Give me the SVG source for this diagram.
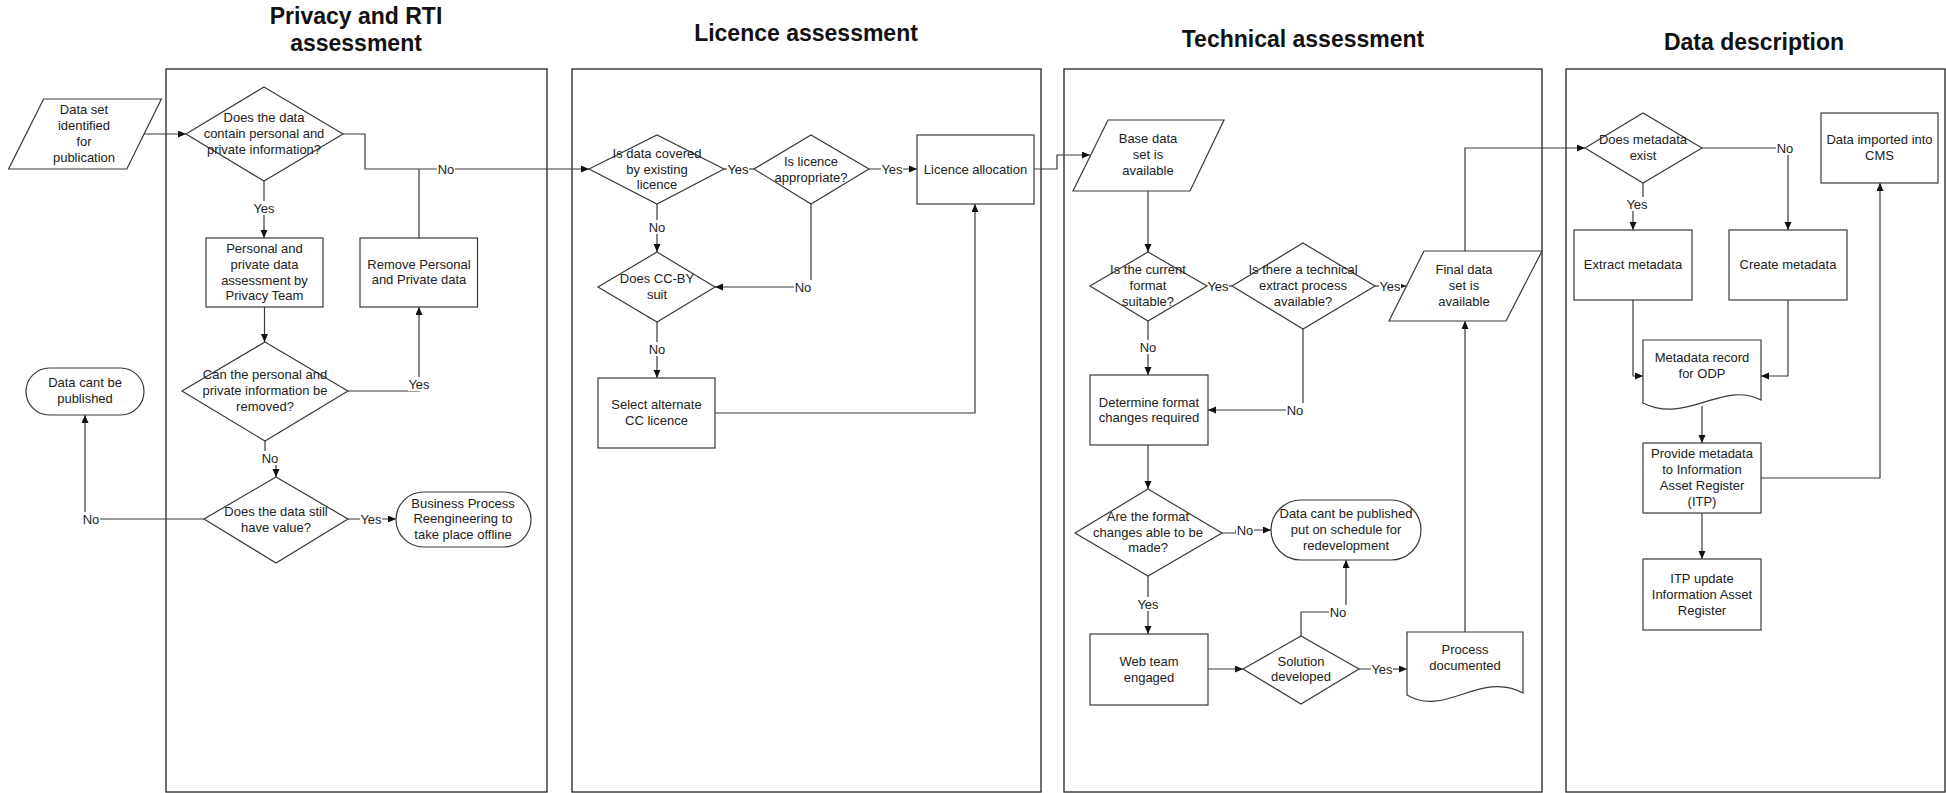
<svg xmlns="http://www.w3.org/2000/svg" width="1946" height="793" viewBox="0 0 1946 793">
<style>
.lane{fill:none;stroke:#222;stroke-width:1.3}
.title{font-family:"Liberation Sans",Arial,sans-serif;font-weight:bold;font-size:23px;fill:#111;text-anchor:middle}
.shape{fill:#fff;stroke:#3a3a3a;stroke-width:1.2}
.t{font-family:"Liberation Sans",Arial,sans-serif;font-size:13px;fill:#222;text-anchor:middle}
.c{fill:none;stroke:#3a3a3a;stroke-width:1.2}
.lb{fill:#fff}
</style>
<defs>
<marker id="ar" markerUnits="userSpaceOnUse" markerWidth="9" markerHeight="8" refX="8" refY="3.5" orient="auto">
<path d="M0,0 L8,3.5 L0,7 z" fill="#111"/>
</marker>
</defs>
<rect width="1946" height="793" fill="#fff"/>

<g id="lanes">
<rect class="lane" x="166" y="69" width="381" height="723"/>
<rect class="lane" x="572" y="69" width="469" height="723"/>
<rect class="lane" x="1064" y="69" width="478" height="723"/>
<rect class="lane" x="1566" y="69" width="379" height="723"/>
<text class="title" x="356" y="24">Privacy and RTI</text>
<text class="title" x="356" y="51">assessment</text>
<text class="title" x="806" y="41">Licence assessment</text>
<text class="title" x="1303" y="46.5">Technical assessment</text>
<text class="title" x="1754" y="49.5">Data description</text>
</g>

<g id="connectors">
<path class="c" d="M143,134 H186" marker-end="url(#ar)"/>
<path class="c" d="M343,134 H365 V169 H589" marker-end="url(#ar)"/>
<path class="c" d="M419,238 V169"/>
<path class="c" d="M264,181 V238" marker-end="url(#ar)"/>
<path class="c" d="M264.5,307 V342" marker-end="url(#ar)"/>
<path class="c" d="M348,391 H419 V307" marker-end="url(#ar)"/>
<path class="c" d="M265,441 V458 H276 V477" marker-end="url(#ar)"/>
<path class="c" d="M348,519 H396" marker-end="url(#ar)"/>
<path class="c" d="M204,519 H85 V415" marker-end="url(#ar)"/>
<path class="c" d="M724,169 H754"/>
<path class="c" d="M869,169 H917" marker-end="url(#ar)"/>
<path class="c" d="M1034,169 H1057 V155 H1090" marker-end="url(#ar)"/>
<path class="c" d="M657,204 V252" marker-end="url(#ar)"/>
<path class="c" d="M811,204 V287 H715" marker-end="url(#ar)"/>
<path class="c" d="M657,322 V378" marker-end="url(#ar)"/>
<path class="c" d="M715,413 H975 V204" marker-end="url(#ar)"/>
<path class="c" d="M1148,191 V252" marker-end="url(#ar)"/>
<path class="c" d="M1207,286 H1232"/>
<path class="c" d="M1375,286 H1406" marker-end="url(#ar)"/>
<path class="c" d="M1465,251 V148 H1585" marker-end="url(#ar)"/>
<path class="c" d="M1148,321 V375" marker-end="url(#ar)"/>
<path class="c" d="M1303,329 V410 H1208" marker-end="url(#ar)"/>
<path class="c" d="M1148,445 V489" marker-end="url(#ar)"/>
<path class="c" d="M1222,533 H1236 V530 H1271" marker-end="url(#ar)"/>
<path class="c" d="M1148,576 V634" marker-end="url(#ar)"/>
<path class="c" d="M1208,669 H1243" marker-end="url(#ar)"/>
<path class="c" d="M1301,636 V612 H1346 V560" marker-end="url(#ar)"/>
<path class="c" d="M1359,669 H1407" marker-end="url(#ar)"/>
<path class="c" d="M1465,632 V321" marker-end="url(#ar)"/>
<path class="c" d="M1702,148 H1788 V230" marker-end="url(#ar)"/>
<path class="c" d="M1643,183 V203 H1633 V230" marker-end="url(#ar)"/>
<path class="c" d="M1633,300 V376 H1643" marker-end="url(#ar)"/>
<path class="c" d="M1788,300 V376 H1761" marker-end="url(#ar)"/>
<path class="c" d="M1702,406 V443" marker-end="url(#ar)"/>
<path class="c" d="M1761,478 H1880 V183" marker-end="url(#ar)"/>
<path class="c" d="M1702,513 V559" marker-end="url(#ar)"/>

<g id="labels">
<rect class="lb" x="437" y="162" width="18" height="14"/><text class="t" x="446" y="173.5">No</text>
<rect class="lb" x="253" y="201" width="22" height="14"/><text class="t" x="264" y="212.5">Yes</text>
<rect class="lb" x="408" y="377" width="22" height="14"/><text class="t" x="419" y="388.5">Yes</text>
<rect class="lb" x="261" y="451" width="18" height="14"/><text class="t" x="270" y="462.5">No</text>
<rect class="lb" x="360" y="512" width="22" height="14"/><text class="t" x="371" y="523.5">Yes</text>
<rect class="lb" x="82" y="512" width="18" height="14"/><text class="t" x="91" y="523.5">No</text>
<rect class="lb" x="727" y="162" width="22" height="14"/><text class="t" x="738" y="173.5">Yes</text>
<rect class="lb" x="881" y="162" width="22" height="14"/><text class="t" x="892" y="173.5">Yes</text>
<rect class="lb" x="648" y="220" width="18" height="14"/><text class="t" x="657" y="231.5">No</text>
<rect class="lb" x="794" y="280" width="18" height="14"/><text class="t" x="803" y="291.5">No</text>
<rect class="lb" x="648" y="342" width="18" height="14"/><text class="t" x="657" y="353.5">No</text>
<rect class="lb" x="1207" y="279" width="22" height="14"/><text class="t" x="1218" y="290.5">Yes</text>
<rect class="lb" x="1379" y="279" width="22" height="14"/><text class="t" x="1390" y="290.5">Yes</text>
<rect class="lb" x="1139" y="340" width="18" height="14"/><text class="t" x="1148" y="351.5">No</text>
<rect class="lb" x="1286" y="403" width="18" height="14"/><text class="t" x="1295" y="414.5">No</text>
<rect class="lb" x="1236" y="523" width="18" height="14"/><text class="t" x="1245" y="534.5">No</text>
<rect class="lb" x="1137" y="597" width="22" height="14"/><text class="t" x="1148" y="608.5">Yes</text>
<rect class="lb" x="1329" y="605" width="18" height="14"/><text class="t" x="1338" y="616.5">No</text>
<rect class="lb" x="1371" y="662" width="22" height="14"/><text class="t" x="1382" y="673.5">Yes</text>
<rect class="lb" x="1776" y="141" width="18" height="14"/><text class="t" x="1785" y="152.5">No</text>
<rect class="lb" x="1626" y="197" width="22" height="14"/><text class="t" x="1637" y="208.5">Yes</text>
</g>
</g>

<g id="n-dataset">
<polygon class="shape" points="43.6,99 161.4,99 126.8,169 8.6,169"/>
<text class="t" x="84"><tspan x="84" y="114">Data set</tspan><tspan x="84" y="130">identified</tspan><tspan x="84" y="146">for</tspan><tspan x="84" y="162">publication</tspan></text>
</g>
<g id="n-contain-personal">
<polygon class="shape" points="264,87 343,134 264,181 186,134"/>
<text class="t"><tspan x="264" y="122">Does the data</tspan><tspan x="264" y="138">contain personal and</tspan><tspan x="264" y="154">private information?</tspan></text>
</g>
<g id="n-privacy-assessment">
<rect class="shape" x="206" y="238" width="117" height="69"/>
<text class="t"><tspan x="264.5" y="253">Personal and</tspan><tspan x="264.5" y="269">private data</tspan><tspan x="264.5" y="285">assessment by</tspan><tspan x="264.5" y="300">Privacy Team</tspan></text>
</g>
<g id="n-remove">
<rect class="shape" x="360" y="238" width="117.5" height="69"/>
<text class="t"><tspan x="419" y="269">Remove Personal</tspan><tspan x="419" y="284">and Private data</tspan></text>
</g>
<g id="n-can-remove">
<polygon class="shape" points="265,342 348,391 265,441 182,391"/>
<text class="t"><tspan x="265" y="379">Can the personal and</tspan><tspan x="265" y="395">private information be</tspan><tspan x="265" y="411">removed?</tspan></text>
</g>
<g id="n-still-value">
<polygon class="shape" points="276,477 348,519 276,563 204,519"/>
<text class="t"><tspan x="276" y="516">Does the data still</tspan><tspan x="276" y="532">have value?</tspan></text>
</g>
<g id="n-bpr">
<rect class="shape" x="396" y="492" width="135" height="55" rx="27.5" ry="27.5"/>
<text class="t"><tspan x="463" y="508">Business Process</tspan><tspan x="463" y="523">Reengineering to</tspan><tspan x="463" y="539">take place offline</tspan></text>
</g>
<g id="n-cant-publish">
<rect class="shape" x="26" y="368" width="118" height="47" rx="23.5" ry="23.5"/>
<text class="t"><tspan x="85" y="387">Data cant be</tspan><tspan x="85" y="403">published</tspan></text>
</g>

<g id="n-existing-licence">
<polygon class="shape" points="589,169 657,135 724,169 657,204"/>
<text class="t"><tspan x="657" y="158">Is data covered</tspan><tspan x="657" y="174">by existing</tspan><tspan x="657" y="189">licence</tspan></text>
</g>
<g id="n-licence-appropriate">
<polygon class="shape" points="754,169 811,135 869,169 811,204"/>
<text class="t"><tspan x="811" y="166">Is licence</tspan><tspan x="811" y="182">appropriate?</tspan></text>
</g>
<g id="n-licence-allocation">
<rect class="shape" x="917" y="135" width="117" height="69"/>
<text class="t" x="975.5" y="174">Licence allocation</text>
</g>
<g id="n-ccby">
<polygon class="shape" points="598,287 657,252 715,287 657,322"/>
<text class="t"><tspan x="657" y="283">Does CC-BY</tspan><tspan x="657" y="299">suit</tspan></text>
</g>
<g id="n-select-cc">
<rect class="shape" x="598" y="378" width="117" height="70"/>
<text class="t"><tspan x="656.5" y="409">Select alternate</tspan><tspan x="656.5" y="425">CC licence</tspan></text>
</g>

<g id="n-base-data">
<polygon class="shape" points="1108,120 1224,120 1190,191 1073,191"/>
<text class="t"><tspan x="1148" y="143">Base data</tspan><tspan x="1148" y="159">set is</tspan><tspan x="1148" y="175">available</tspan></text>
</g>
<g id="n-format-suitable">
<polygon class="shape" points="1148,252 1207,286 1148,321 1090,286"/>
<text class="t"><tspan x="1148" y="274">Is the current</tspan><tspan x="1148" y="290">format</tspan><tspan x="1148" y="306">suitable?</tspan></text>
</g>
<g id="n-extract-process">
<polygon class="shape" points="1232,286 1303,243 1375,286 1303,329"/>
<text class="t"><tspan x="1303" y="274">Is there a technical</tspan><tspan x="1303" y="290">extract process</tspan><tspan x="1303" y="306">available?</tspan></text>
</g>
<g id="n-final-data">
<polygon class="shape" points="1424,251 1542,251 1506,321 1389,321"/>
<text class="t"><tspan x="1464" y="274">Final data</tspan><tspan x="1464" y="290">set is</tspan><tspan x="1464" y="306">available</tspan></text>
</g>
<g id="n-determine">
<rect class="shape" x="1090" y="375" width="118" height="70"/>
<text class="t"><tspan x="1149" y="407">Determine format</tspan><tspan x="1149" y="422">changes required</tspan></text>
</g>
<g id="n-changes-able">
<polygon class="shape" points="1148,489 1222,533 1148,576 1075,533"/>
<text class="t"><tspan x="1148" y="521">Are the format</tspan><tspan x="1148" y="537">changes able to be</tspan><tspan x="1148" y="552">made?</tspan></text>
</g>
<g id="n-cant-publish-2">
<rect class="shape" x="1271" y="500" width="150" height="60" rx="30" ry="30"/>
<text class="t"><tspan x="1346" y="518">Data cant be published</tspan><tspan x="1346" y="534">put on schedule for</tspan><tspan x="1346" y="550">redevelopment</tspan></text>
</g>
<g id="n-web-team">
<rect class="shape" x="1090" y="634" width="118" height="71"/>
<text class="t"><tspan x="1149" y="666">Web team</tspan><tspan x="1149" y="682">engaged</tspan></text>
</g>
<g id="n-solution">
<polygon class="shape" points="1243,669 1301,636 1359,669 1301,704"/>
<text class="t"><tspan x="1301" y="666">Solution</tspan><tspan x="1301" y="681">developed</tspan></text>
</g>
<g id="n-process-doc">
<path class="shape" d="M1407,632 H1523 V693 C1480,670 1445,718 1407,695 Z"/>
<text class="t"><tspan x="1465" y="654">Process</tspan><tspan x="1465" y="670">documented</tspan></text>
</g>

<g id="n-metadata-exist">
<polygon class="shape" points="1585,148 1643,113 1702,148 1643,183"/>
<text class="t"><tspan x="1643" y="144">Does metadata</tspan><tspan x="1643" y="160">exist</tspan></text>
</g>
<g id="n-extract-metadata">
<rect class="shape" x="1574" y="230" width="118" height="70"/>
<text class="t" x="1633" y="269">Extract metadata</text>
</g>
<g id="n-create-metadata">
<rect class="shape" x="1729" y="230" width="118" height="70"/>
<text class="t" x="1788" y="269">Create metadata</text>
</g>
<g id="n-cms">
<rect class="shape" x="1821" y="113" width="117" height="70"/>
<text class="t"><tspan x="1879.5" y="144">Data imported into</tspan><tspan x="1879.5" y="160">CMS</tspan></text>
</g>
<g id="n-metadata-record">
<path class="shape" d="M1643,340 H1761 V400 C1722,380 1686,425 1643,403 Z"/>
<text class="t"><tspan x="1702" y="362">Metadata record</tspan><tspan x="1702" y="378">for ODP</tspan></text>
</g>
<g id="n-provide-metadata">
<rect class="shape" x="1643" y="443" width="118" height="70"/>
<text class="t"><tspan x="1702" y="458">Provide metadata</tspan><tspan x="1702" y="474">to Information</tspan><tspan x="1702" y="490">Asset Register</tspan><tspan x="1702" y="506">(ITP)</tspan></text>
</g>
<g id="n-itp-update">
<rect class="shape" x="1643" y="559" width="118" height="71"/>
<text class="t"><tspan x="1702" y="583">ITP update</tspan><tspan x="1702" y="599">Information Asset</tspan><tspan x="1702" y="615">Register</tspan></text>
</g>
</svg>
